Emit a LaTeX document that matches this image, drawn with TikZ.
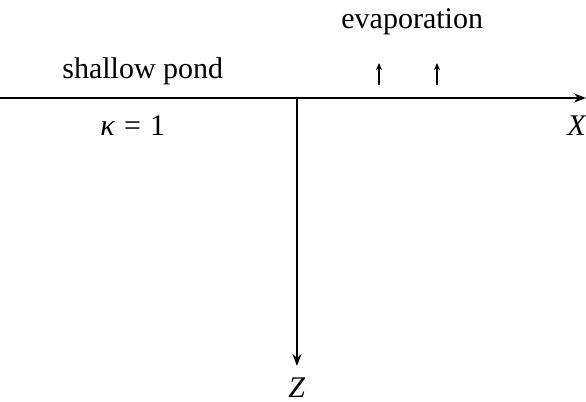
\documentclass[tikz,border=0pt]{standalone}
\usepackage{fontspec}
\setmainfont{Liberation Serif}
\usetikzlibrary{arrows.meta}
\begin{document}
\begin{tikzpicture}[x=0.5pt,y=-0.5pt,
  lbl/.style={inner sep=0pt,anchor=base west,font=\fontsize{15}{18}\selectfont},
  axis/.style={line width=0.9pt,-{Stealth[length=6pt,width=4.5pt]}},
  evap/.style={line width=0.6pt,-{Stealth[length=3.5pt,width=3pt]}}]
\useasboundingbox (0,0) rectangle (586,402);
\coordinate (xs) at (0,98);
\coordinate (xe) at (586,98);
\coordinate (o) at (297,98);
\coordinate (ze) at (297,366);
\draw[axis] (xs) -- (xe);
\draw[axis] (o) -- (ze);
\node[lbl] (evap) at (341,28) {evaporation};
\node[lbl] (pond) at (62,78) {shallow pond};
\node[lbl] (kappa) at (100,135) {\textit{κ}\hspace{0.3em}=\hspace{0.3em}1};
\node[lbl] (X) at (567,135) {\textit{X}};
\node[lbl] (Z) at (288,397) {\textit{Z}};
\coordinate (a1s) at (379,85);
\coordinate (a1e) at (379,63);
\coordinate (a2s) at (437,85);
\coordinate (a2e) at (437,63);
\draw[evap] (a1s) -- (a1e);
\draw[evap] (a2s) -- (a2e);
\end{tikzpicture}
\end{document}
